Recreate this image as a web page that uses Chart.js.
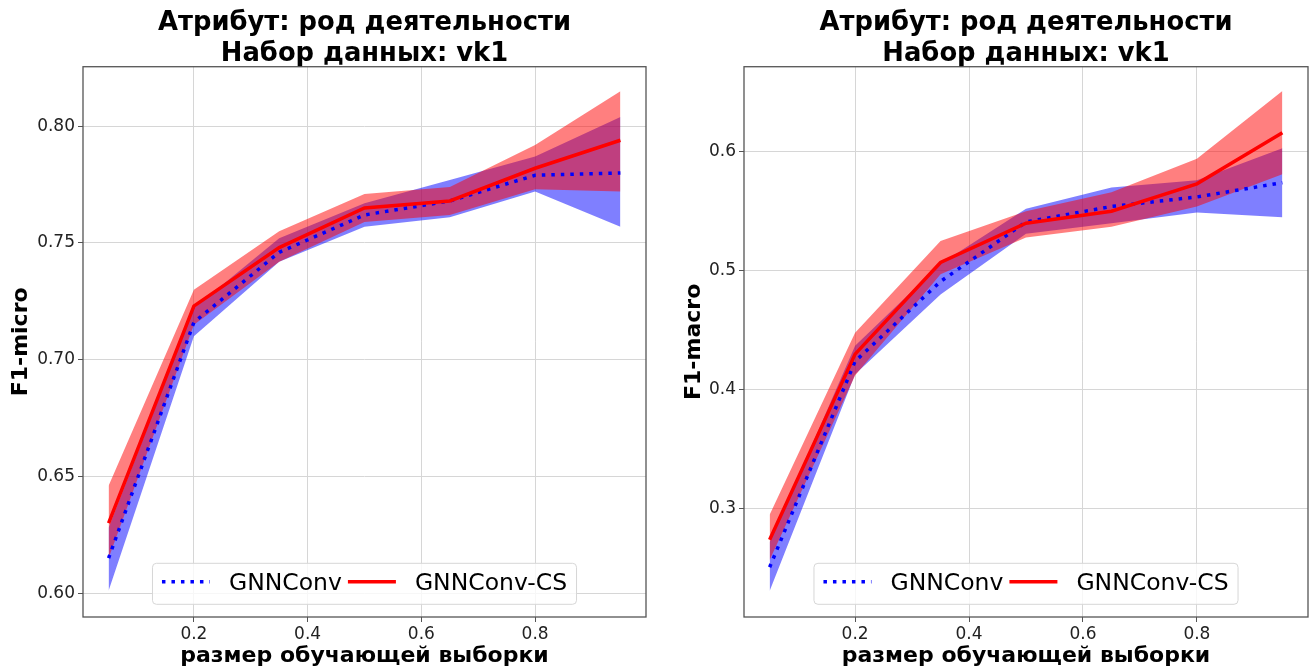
<!DOCTYPE html>
<html lang="ru">
<head>
<meta charset="UTF-8">
<title>GNNConv vs GNNConv-CS, vk1</title>
<script src="https://cdn.jsdelivr.net/npm/chart.js"></script>
<style>
  body { margin: 0; background: #fff; }
  .wrap { display: flex; width: 1316px; height: 669px; }
  canvas { display: block; }
</style>
</head>
<body>
<div class="wrap">
  <canvas id="micro" width="658" height="669"></canvas>
  <canvas id="macro" width="658" height="669"></canvas>
</div>
<script>
// share of training data
const trainSize = [0.05, 0.2, 0.35, 0.5, 0.65, 0.8, 0.95];
const xTicks = [0.2, 0.4, 0.6, 0.8];
const xTickLabels = ['0.2', '0.4', '0.6', '0.8'];
const seriesNames = ['GNNConv', 'GNNConv-CS'];

// F1-micro
const gnnMicro     = [0.615, 0.716, 0.746, 0.762, 0.768, 0.779, 0.780];
const gnnMicroLow  = [0.601, 0.710, 0.742, 0.757, 0.761, 0.772, 0.757];
const gnnMicroHigh = [0.628, 0.722, 0.752, 0.767, 0.777, 0.787, 0.804];
const csMicro      = [0.630, 0.723, 0.748, 0.765, 0.768, 0.782, 0.794];
const csMicroLow   = [0.615, 0.715, 0.742, 0.759, 0.762, 0.773, 0.772];
const csMicroHigh  = [0.646, 0.730, 0.755, 0.771, 0.774, 0.792, 0.815];
const microTicks = [0.60, 0.65, 0.70, 0.75, 0.80];
const microTickLabels = ['0.60', '0.65', '0.70', '0.75', '0.80'];

// F1-macro
const gnnMacro     = [0.251, 0.424, 0.491, 0.541, 0.554, 0.562, 0.574];
const gnnMacroLow  = [0.231, 0.413, 0.480, 0.531, 0.540, 0.549, 0.545];
const gnnMacroHigh = [0.272, 0.437, 0.506, 0.552, 0.570, 0.576, 0.603];
const csMacro      = [0.274, 0.430, 0.507, 0.540, 0.550, 0.573, 0.616];
const csMacroLow   = [0.257, 0.412, 0.497, 0.528, 0.537, 0.554, 0.581];
const csMacroHigh  = [0.295, 0.448, 0.525, 0.550, 0.566, 0.594, 0.651];
const macroTicks = [0.3, 0.4, 0.5, 0.6];
const macroTickLabels = ['0.3', '0.4', '0.5', '0.6'];

const titleLines = ['Атрибут: род деятельности', 'Набор данных: vk1'];
const xTitle = 'размер обучающей выборки';

const FONT = '"DejaVu Sans", Verdana, sans-serif';

function pts(ys) {
  return trainSize.map((x, i) => ({ x: x, y: ys[i] }));
}

// box around the plot + legend inside, like matplotlib
const frameAndLegend = {
  id: 'frameAndLegend',
  afterDatasetsDraw(chart) {
    const a = chart.chartArea, ctx = chart.ctx;
    ctx.save();
    ctx.strokeStyle = '#555';
    ctx.lineWidth = 1.3;
    ctx.strokeRect(a.left, a.top, a.right - a.left, a.bottom - a.top);
    ctx.restore();
  },
  afterDraw(chart) {
    const a = chart.chartArea, ctx = chart.ctx;
    ctx.save();
    ctx.font = '23.5px ' + FONT;
    const w1 = ctx.measureText(seriesNames[0]).width;
    const w2 = ctx.measureText(seriesNames[1]).width;
    const pad = 9.5, handle = 48, tp = 19, gap = 6;
    const boxW = pad + handle + tp + w1 + gap + handle + tp + w2 + pad;
    const boxH = 41;
    const bx = (a.left + a.right) / 2 - boxW / 2;
    const by = a.bottom - 12.7 - boxH;
    ctx.beginPath();
    ctx.roundRect(bx, by, boxW, boxH, 4);
    ctx.fillStyle = 'rgba(255,255,255,0.8)';
    ctx.fill();
    ctx.strokeStyle = '#d6d6d6';
    ctx.lineWidth = 1;
    ctx.stroke();

    const cy = by + 18.5;
    let x = bx + pad;
    ctx.lineWidth = 3.5;
    ctx.setLineDash([3.5, 6]);
    ctx.strokeStyle = '#0000ff';
    ctx.beginPath(); ctx.moveTo(x, cy); ctx.lineTo(x + handle, cy); ctx.stroke();
    ctx.setLineDash([]);
    x += handle + tp;
    ctx.fillStyle = '#000';
    ctx.textBaseline = 'alphabetic';
    ctx.fillText(seriesNames[0], x, cy + 8.6);
    x += w1 + gap;
    ctx.strokeStyle = '#ff0000';
    ctx.beginPath(); ctx.moveTo(x, cy); ctx.lineTo(x + handle, cy); ctx.stroke();
    x += handle + tp;
    ctx.fillText(seriesNames[1], x, cy + 8.6);
    ctx.restore();
  }
};

function makeChart(id, cfg) {
  const band = { borderColor: 'rgba(0,0,0,0)', borderWidth: 0, pointRadius: 0, tension: 0 };
  return new Chart(document.getElementById(id), {
    type: 'line',
    data: {
      datasets: [
        Object.assign({ data: pts(cfg.gnnLow), fill: false, order: 6 }, band),
        Object.assign({ data: pts(cfg.gnnHigh), fill: '-1', backgroundColor: 'rgba(0,0,255,0.5)', order: 5 }, band),
        Object.assign({ data: pts(cfg.csLow), fill: false, order: 4 }, band),
        Object.assign({ data: pts(cfg.csHigh), fill: '-1', backgroundColor: 'rgba(255,0,0,0.5)', order: 3 }, band),
        { label: seriesNames[0], data: pts(cfg.gnn), borderColor: '#0000ff', borderWidth: 3.5,
          borderDash: [3.5, 6], borderCapStyle: 'butt', pointRadius: 0, fill: false, tension: 0, order: 2 },
        { label: seriesNames[1], data: pts(cfg.cs), borderColor: '#ff0000', borderWidth: 3.5,
          pointRadius: 0, fill: false, tension: 0, order: 1 }
      ]
    },
    options: {
      responsive: false,
      animation: false,
      layout: { padding: { left: 0, right: cfg.padRight, top: 0, bottom: 0 } },
      plugins: {
        legend: { display: false },
        tooltip: { enabled: false },
        title: {
          display: true,
          fullSize: false,
          text: titleLines,
          color: '#000',
          font: { family: FONT, size: 25.8, weight: 'bold', lineHeight: 1.225 },
          padding: { top: 7, bottom: -3.5 }
        }
      },
      scales: {
        x: {
          type: 'linear',
          min: 0.005, max: 0.995,
          afterBuildTicks: s => { s.ticks = xTicks.map(v => ({ value: v })); },
          afterFit: s => { s.height = 52; },
          ticks: {
            color: '#222',
            font: { family: FONT, size: 17 },
            padding: 2,
            maxRotation: 0,
            callback: v => xTickLabels[xTicks.indexOf(v)]
          },
          grid: { color: '#d6d6d6', lineWidth: 1, tickLength: 5, tickColor: '#555' },
          border: { display: false },
          title: {
            display: true, text: xTitle, color: '#000',
            font: { family: FONT, size: 22, weight: 'bold', lineHeight: 1.2 },
            padding: { top: 0, bottom: 0 }
          }
        },
        y: {
          type: 'linear',
          min: cfg.yMin, max: cfg.yMax,
          afterBuildTicks: s => { s.ticks = cfg.yTicks.map(v => ({ value: v })); },
          afterFit: s => { s.width = cfg.yWidth; },
          ticks: {
            color: '#222',
            font: { family: FONT, size: 17 },
            padding: 3,
            callback: v => cfg.yTickLabels[cfg.yTicks.indexOf(v)]
          },
          grid: { color: '#d6d6d6', lineWidth: 1, tickLength: 5, tickColor: '#555' },
          border: { display: false },
          title: {
            display: true, text: cfg.yTitle, color: '#000',
            font: { family: FONT, size: 22, weight: 'bold', lineHeight: 1.2 },
            padding: { top: cfg.yTitlePad, bottom: 0 }
          }
        }
      }
    },
    plugins: [frameAndLegend]
  });
}

makeChart('micro', {
  gnn: gnnMicro, gnnLow: gnnMicroLow, gnnHigh: gnnMicroHigh,
  cs: csMicro, csLow: csMicroLow, csHigh: csMicroHigh,
  yMin: 0.5898, yMax: 0.8255, yTicks: microTicks, yTickLabels: microTickLabels,
  yTitle: 'F1-micro', yWidth: 83, yTitlePad: 8.5, padRight: 12
});

makeChart('macro', {
  gnn: gnnMacro, gnnLow: gnnMacroLow, gnnHigh: gnnMacroHigh,
  cs: csMacro, csLow: csMacroLow, csHigh: csMacroHigh,
  yMin: 0.2092, yMax: 0.6714, yTicks: macroTicks, yTickLabels: macroTickLabels,
  yTitle: 'F1-macro', yWidth: 86, yTitlePad: 23.5, padRight: 8
});
</script>
</body>
</html>
